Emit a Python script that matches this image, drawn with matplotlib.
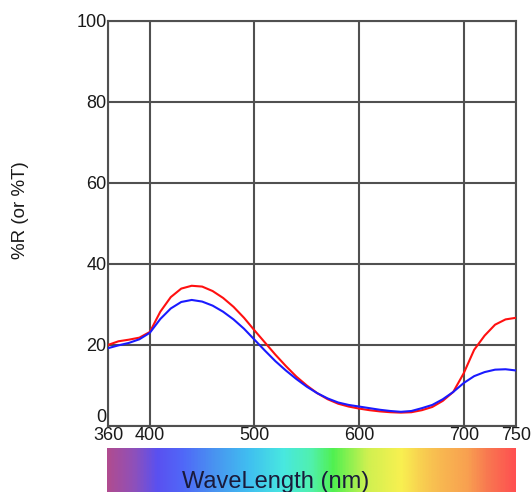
import numpy as np
import matplotlib
matplotlib.use("Agg")
import matplotlib.pyplot as plt
from matplotlib.colors import LinearSegmentedColormap
from matplotlib.transforms import ScaledTranslation

plt.rcParams['font.family'] = ['Liberation Sans', 'DejaVu Sans']

# Wavelength grid (nm) and read-off curves
wavelength = [360, 370, 380, 390, 400, 410, 420, 430, 440, 450,
              460, 470, 480, 490, 500, 510, 520, 530, 540, 550,
              560, 570, 580, 590, 600, 610, 620, 630, 640, 650,
              660, 670, 680, 690, 700, 710, 720, 730, 740, 750]
red_curve = [20.0, 20.9, 21.3, 21.8, 23.2, 28.2, 31.8, 33.9, 34.6, 34.4,
             33.3, 31.6, 29.4, 26.7, 23.6, 20.6, 17.6, 14.8, 12.2, 10.0,
             8.1, 6.6, 5.5, 4.8, 4.3, 3.9, 3.6, 3.4, 3.3, 3.4,
             3.9, 4.7, 6.2, 8.4, 13.0, 18.8, 22.3, 25.0, 26.3, 26.7]
blue_curve = [19.2, 19.9, 20.5, 21.4, 23.0, 26.4, 29.0, 30.6, 31.1, 30.7,
              29.7, 28.2, 26.3, 24.0, 21.3, 18.6, 16.0, 13.7, 11.6, 9.7,
              8.1, 6.8, 5.8, 5.2, 4.8, 4.4, 4.0, 3.7, 3.5, 3.7,
              4.4, 5.2, 6.6, 8.4, 10.6, 12.3, 13.3, 13.9, 14.0, 13.7]

x_ticks = [360, 400, 500, 600, 700, 750]
y_ticks = [0, 20, 40, 60, 80, 100]

# spectrum bar colours (nm, colour)
spectrum = [(360, '#b04c90'), (384, '#9050b8'), (407, '#5a50f0'), (432, '#5068f8'),
            (465, '#4898f0'), (496, '#40c0f0'), (528, '#48e8e0'), (554, '#50f0b0'),
            (576, '#50f050'), (609, '#d0f050'), (641, '#f8f050'), (660, '#f8d050'),
            (679, '#f8b850'), (705, '#f8a050'), (724, '#f87850'), (750, '#ff5050')]

W, H = 532, 492
fig = plt.figure(figsize=(W / 100, H / 100), dpi=100)

ax = fig.add_axes([108 / W, 1 - 426 / H, (516 - 108) / W, (426 - 20.7) / H])
ax.plot(wavelength, red_curve, color='#ff1010', lw=1.5, zorder=3)
ax.plot(wavelength, blue_curve, color='#1a1aff', lw=1.5, zorder=3)

ax.set_xlim(360, 750)
ax.set_ylim(0, 100)
ax.set_xticks(x_ticks)
ax.set_yticks(y_ticks)
ax.grid(True, color='#505050', lw=1.5)
ax.tick_params(length=0, pad=1, labelsize=13, labelcolor='#1a1a1a')
for s in ax.spines.values():
    s.set_color('#505050')
    s.set_linewidth(1.5)

# the "0" label sits a bit above the axis bottom
zero_lbl = ax.get_yticklabels()[0]
zero_lbl.set_transform(zero_lbl.get_transform() + ScaledTranslation(0, 0.1, fig.dpi_scale_trans))

fig.text(21 / W, 1 - 210 / H, '%R (or %T)', rotation=90, ha='center', va='center',
         fontsize=13.5, color='#1a1a1a')

# colour spectrum strip
cax = fig.add_axes([107 / W, 0, (516 - 107) / W, (492 - 448) / H])
lo, hi = spectrum[0][0], spectrum[-1][0]
cmap = LinearSegmentedColormap.from_list(
    'spec', [((nm - lo) / (hi - lo), c) for nm, c in spectrum])
grad = np.linspace(0, 1, 400)[None, :]
cax.imshow(grad, cmap=cmap, aspect='auto', extent=[lo, hi, 0, 1])
cax.axis('off')

fig.text(276 / W, 1 - 488 / H, 'WaveLength (nm)', ha='center', va='baseline',
         fontsize=17, color='#1a1a3a')

fig.savefig('out.png', dpi=100)
